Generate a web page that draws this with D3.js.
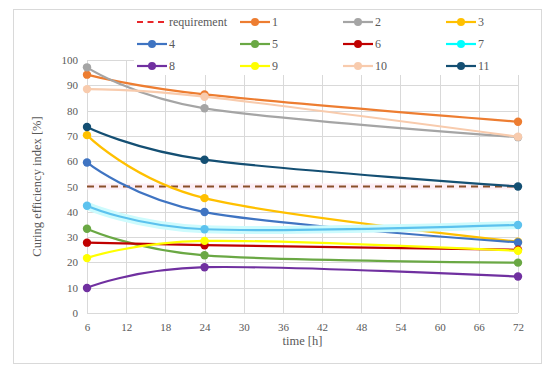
<!DOCTYPE html>
<html>
<head>
<meta charset="utf-8">
<script src="https://cdn.jsdelivr.net/npm/d3@7"></script>
<style>
  body { margin: 0; background: #fff; }
  text { font-family: "Liberation Serif", "DejaVu Serif", serif; fill: #595959; }
</style>
</head>
<body>
<div id="chart"></div>
<script>
// data
const times = [6, 24, 72];
const seriesNames = ["1", "2", "3", "4", "5", "6", "7", "8", "9", "10", "11"];
const seriesColors = ["#ed7d31", "#a5a5a5", "#ffc000", "#3f74c2", "#6aa844", "#c00000",
                      "#00ffff", "#7030a0", "#ffff00", "#f8cbad", "#144f73"];
const s1 = [94.2, 86.4, 75.6];
const s2 = [97.1, 80.9, 69.5];
const s3 = [70.3, 45.4, 28.2];
const s4 = [59.5, 39.9, 27.9];
const s5 = [33.3, 22.8, 19.9];
const s6 = [27.8, 26.8, 25.0];
const s7 = [42.4, 33.1, 34.8];
const s8 = [9.9, 18.1, 14.4];
const s9 = [21.7, 28.5, 24.6];
const s10 = [88.5, 85.5, 69.7];
const s11 = [73.5, 60.6, 50.0];
const seriesValues = [s1, s2, s3, s4, s5, s6, s7, s8, s9, s10, s11];
const requirement = [50, 50];
const requirementTimes = [6, 72];
const xTicks = d3.range(6, 73, 6);
const yTicks = d3.range(0, 101, 10);

// svg set up
let svgWidth = 550;
let svgHeight = 367;
let margin = { top: 60, bottom: 54, left: 87, right: 32 };
let width = svgWidth - margin.left - margin.right;
let height = svgHeight - margin.top - margin.bottom;

let svg = d3.select("#chart")
    .append("svg")
    .attr("width", svgWidth)
    .attr("height", svgHeight);

// chart border
svg.append("rect")
    .attr("x", 13.5).attr("y", 9.5)
    .attr("width", 528).attr("height", 354)
    .attr("fill", "#fff")
    .attr("stroke", "#d9d9d9");

let chartGroup = svg.append("g")
    .attr("transform", `translate(${margin.left},${margin.top})`);

let x = d3.scaleLinear().domain([6, 72]).range([0, width]);
let y = d3.scaleLinear().domain([0, 100]).range([height, 0]);

// gridlines
chartGroup.append("g")
    .selectAll("line.h")
    .data(yTicks)
    .enter().append("line")
    .attr("x1", 0).attr("x2", width)
    .attr("y1", d => Math.round(y(d)) + 0.5).attr("y2", d => Math.round(y(d)) + 0.5)
    .attr("stroke", "#d9d9d9");
chartGroup.append("g")
    .selectAll("line.v")
    .data(xTicks)
    .enter().append("line")
    .attr("x1", d => Math.round(x(d)) + 0.5).attr("x2", d => Math.round(x(d)) + 0.5)
    .attr("y1", 0).attr("y2", height)
    .attr("stroke", "#d9d9d9");

// axes
let bottomAxis = d3.axisBottom(x).tickValues(xTicks).tickSize(0).tickPadding(10);
let leftAxis = d3.axisLeft(y).tickValues(yTicks).tickSize(0).tickPadding(9);
let xg = chartGroup.append("g")
    .attr("transform", `translate(0,${height})`)
    .call(bottomAxis);
let yg = chartGroup.append("g").call(leftAxis);
[xg, yg].forEach(g => {
    g.select(".domain").remove();
    g.attr("font-family", null);
    g.selectAll("text").attr("font-size", "11px").attr("fill", "#595959");
});

let line = d3.line()
    .x((d, i) => x(d[0]))
    .y(d => y(d[1]))
    .curve(d3.curveCardinal);

// requirement line
let reqPts = requirementTimes.map((t, i) => [t, requirement[i]]);
chartGroup.append("path")
    .attr("d", line(reqPts))
    .attr("fill", "none")
    .attr("stroke", "#fdeef5")
    .attr("stroke-width", 6);
chartGroup.append("path")
    .attr("d", line(reqPts))
    .attr("fill", "none")
    .attr("stroke", "#8a4f2a")
    .attr("stroke-width", 2.2)
    .attr("stroke-dasharray", "7,5");

// series
seriesValues.forEach((vals, k) => {
    let pts = times.map((t, i) => [t, vals[i]]);
    let color = seriesColors[k];
    if (seriesNames[k] === "7") {
        // pale glow the picture shows under series 7
        chartGroup.append("path")
            .attr("d", line(pts))
            .attr("fill", "none")
            .attr("stroke", "#cdfbfd")
            .attr("stroke-width", 8);
        color = "#5cc2ee";
    }
    chartGroup.append("path")
        .attr("d", line(pts))
        .attr("fill", "none")
        .attr("stroke", color)
        .attr("stroke-width", 2.2);
    chartGroup.selectAll(null)
        .data(pts)
        .enter().append("circle")
        .attr("cx", d => x(d[0]))
        .attr("cy", d => y(d[1]))
        .attr("r", 4.2)
        .attr("fill", color);
});

// legend
let legend = svg.append("g");
legend.append("rect")
    .attr("x", 134).attr("y", 11)
    .attr("width", 398).attr("height", 64)
    .attr("fill", "#fff");
let legendItems = [{ name: "requirement", color: "#e8262a", dashed: true }]
    .concat(seriesNames.map((n, i) => ({ name: n, color: seriesColors[i], dashed: false })));
let colX = [137, 240, 343, 446];
let rowY = [22, 44, 66];
legendItems.forEach((item, i) => {
    let lx = colX[i % 4];
    let ly = rowY[Math.floor(i / 4)];
    let g = legend.append("g").attr("transform", `translate(${lx},${ly})`);
    g.append("line")
        .attr("x1", 0).attr("x2", 30)
        .attr("y1", 0).attr("y2", 0)
        .attr("stroke", item.color)
        .attr("stroke-width", 2.2)
        .attr("stroke-dasharray", item.dashed ? "6,4.5" : null);
    if (!item.dashed) {
        g.append("circle").attr("cx", 15).attr("cy", 0).attr("r", 4).attr("fill", item.color);
    }
    g.append("text")
        .attr("x", 32).attr("y", 4)
        .attr("font-size", "12px")
        .text(item.name);
});

// axes labels
svg.append("text")
    .attr("transform", `translate(41,${margin.top + height / 2}) rotate(-90)`)
    .attr("text-anchor", "middle")
    .attr("font-size", "12.5px")
    .text("Curing efficiency index  [%]");
svg.append("text")
    .attr("x", margin.left + width / 2)
    .attr("y", 345)
    .attr("text-anchor", "middle")
    .attr("font-size", "12.5px")
    .text("time [h]");
</script>
</body>
</html>
